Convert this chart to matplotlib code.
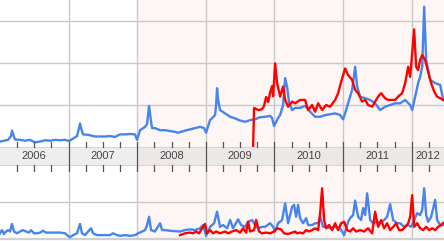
import matplotlib
matplotlib.use("Agg")
import matplotlib.pyplot as plt

# --- search volume (top panel), dates as decimal years
blue_top_t = [
    2006.000, 2006.117, 2006.160, 2006.175, 2006.204, 2006.219, 2006.292, 2006.364, 2006.437, 2006.510,
    2006.583, 2006.656, 2006.729, 2006.802, 2006.875, 2006.948, 2006.991, 2007.006, 2007.064, 2007.122,
    2007.152, 2007.166, 2007.181, 2007.210, 2007.283, 2007.385, 2007.458, 2007.531, 2007.603, 2007.676,
    2007.749, 2007.822, 2007.895, 2007.968, 2007.997, 2008.041, 2008.114, 2008.143, 2008.172, 2008.201,
    2008.216, 2008.259, 2008.332, 2008.405, 2008.478, 2008.551, 2008.595, 2008.697, 2008.770, 2008.843,
    2008.915, 2008.974, 2009.003, 2009.061, 2009.134, 2009.149, 2009.163, 2009.178, 2009.207, 2009.280,
    2009.353, 2009.426, 2009.499, 2009.571, 2009.644, 2009.717, 2009.790, 2009.863, 2009.936, 2009.965,
    2009.994, 2010.052, 2010.082, 2010.125, 2010.155, 2010.184, 2010.213, 2010.257, 2010.300, 2010.373,
    2010.446, 2010.519, 2010.592, 2010.665, 2010.738, 2010.810, 2010.883, 2010.956, 2011.000, 2011.029,
    2011.073, 2011.131, 2011.175, 2011.204, 2011.248, 2011.321, 2011.394, 2011.466, 2011.539, 2011.612,
    2011.685, 2011.758, 2011.831, 2011.904, 2011.977, 2012.006, 2012.050, 2012.093, 2012.122, 2012.152,
    2012.181, 2012.210, 2012.268, 2012.341, 2012.414, 2012.458,
]
blue_top_v = [
    0.13, 0.17, 0.26, 0.39, 0.24, 0.18, 0.17, 0.15, 0.17, 0.11,
    0.13, 0.16, 0.15, 0.17, 0.16, 0.17, 0.15, 0.14, 0.20, 0.26,
    0.45, 0.56, 0.45, 0.30, 0.29, 0.25, 0.25, 0.25, 0.26, 0.24,
    0.30, 0.30, 0.31, 0.30, 0.17, 0.40, 0.48, 0.55, 0.98, 0.60,
    0.45, 0.45, 0.40, 0.40, 0.38, 0.36, 0.34, 0.39, 0.42, 0.45,
    0.48, 0.45, 0.34, 0.64, 0.76, 1.00, 1.40, 1.12, 0.88, 0.80,
    0.72, 0.68, 0.63, 0.60, 0.64, 0.66, 0.71, 0.72, 0.74, 0.69,
    0.50, 0.69, 0.76, 1.00, 1.64, 1.43, 1.05, 0.88, 0.93, 0.93,
    0.98, 0.84, 0.72, 0.72, 0.76, 0.78, 0.80, 0.76, 0.66, 0.80,
    1.04, 1.36, 1.91, 1.44, 1.20, 1.16, 1.12, 1.04, 0.88, 0.96,
    1.00, 1.04, 1.04, 1.12, 1.00, 0.88, 1.20, 1.52, 1.67, 1.91,
    3.34, 2.07, 1.60, 1.52, 1.48, 1.12,
]

red_top_t = [
    2009.688, 2009.703, 2009.761, 2009.819, 2009.848, 2009.878, 2009.907, 2009.936, 2009.965, 2009.980,
    2010.009, 2010.038, 2010.082, 2010.125, 2010.155, 2010.198, 2010.257, 2010.300, 2010.373, 2010.446,
    2010.490, 2010.548, 2010.592, 2010.636, 2010.694, 2010.752, 2010.810, 2010.883, 2010.927, 2010.971,
    2011.029, 2011.073, 2011.131, 2011.175, 2011.219, 2011.277, 2011.321, 2011.364, 2011.423, 2011.466,
    2011.510, 2011.554, 2011.612, 2011.656, 2011.714, 2011.758, 2011.802, 2011.860, 2011.904, 2011.948,
    2011.977, 2012.006, 2012.035, 2012.064, 2012.093, 2012.122, 2012.152, 2012.195, 2012.239, 2012.283,
    2012.327, 2012.370, 2012.414, 2012.458,
]
red_top_v = [
    0.00, 0.93, 0.88, 0.90, 0.98, 1.19, 1.07, 1.29, 1.45, 1.21,
    1.99, 1.52, 1.20, 1.44, 1.12, 0.96, 1.08, 1.04, 1.12, 1.12,
    0.88, 1.00, 0.84, 1.04, 0.88, 1.00, 0.96, 1.12, 1.28, 1.55,
    1.87, 1.71, 1.60, 1.36, 1.28, 1.08, 1.12, 1.00, 0.96, 1.08,
    1.20, 1.28, 1.16, 1.12, 1.12, 1.12, 1.20, 1.28, 1.52, 1.91,
    1.67, 2.23, 2.80, 1.91, 1.83, 2.07, 2.19, 2.07, 1.79, 1.52,
    1.32, 1.20, 1.16, 1.12,
]

# --- news reference volume (bottom panel)
blue_news_t = [
    2006.000, 2006.029, 2006.058, 2006.087, 2006.117, 2006.146, 2006.175, 2006.204, 2006.248, 2006.292,
    2006.335, 2006.379, 2006.423, 2006.452, 2006.496, 2006.539, 2006.583, 2006.627, 2006.671, 2006.729,
    2006.802, 2006.875, 2006.948, 2006.991, 2007.020, 2007.064, 2007.122, 2007.166, 2007.195, 2007.239,
    2007.283, 2007.327, 2007.356, 2007.414, 2007.458, 2007.531, 2007.603, 2007.647, 2007.706, 2007.749,
    2007.822, 2007.895, 2007.968, 2008.012, 2008.070, 2008.114, 2008.143, 2008.172, 2008.201, 2008.259,
    2008.332, 2008.362, 2008.405, 2008.478, 2008.551, 2008.624, 2008.697, 2008.770, 2008.843, 2008.915,
    2008.959, 2009.003, 2009.061, 2009.120, 2009.163, 2009.207, 2009.251, 2009.309, 2009.353, 2009.397,
    2009.469, 2009.513, 2009.571, 2009.615, 2009.673, 2009.717, 2009.761, 2009.819, 2009.863, 2009.936,
    2009.980, 2010.009, 2010.052, 2010.111, 2010.155, 2010.198, 2010.257, 2010.286, 2010.315, 2010.344,
    2010.373, 2010.417, 2010.461, 2010.490, 2010.548, 2010.592, 2010.636, 2010.665, 2010.708, 2010.767,
    2010.810, 2010.883, 2010.956, 2011.015, 2011.073, 2011.102, 2011.146, 2011.175, 2011.219, 2011.262,
    2011.292, 2011.321, 2011.350, 2011.394, 2011.437, 2011.481, 2011.539, 2011.598, 2011.641, 2011.685,
    2011.729, 2011.787, 2011.831, 2011.889, 2011.948, 2011.991, 2012.035, 2012.079, 2012.122, 2012.152,
    2012.181, 2012.210, 2012.239, 2012.283, 2012.341, 2012.370, 2012.414, 2012.458,
]
blue_news_v = [
    0.13, 0.22, 0.11, 0.18, 0.22, 0.18, 0.39, 0.18, 0.13, 0.18,
    0.22, 0.18, 0.15, 0.22, 0.13, 0.13, 0.15, 0.20, 0.15, 0.15,
    0.15, 0.15, 0.13, 0.06, 0.02, 0.08, 0.13, 0.39, 0.13, 0.08,
    0.18, 0.27, 0.13, 0.08, 0.08, 0.08, 0.08, 0.13, 0.08, 0.06,
    0.08, 0.06, 0.08, 0.13, 0.18, 0.22, 0.36, 0.59, 0.22, 0.18,
    0.41, 0.22, 0.22, 0.20, 0.19, 0.18, 0.22, 0.24, 0.22, 0.27,
    0.36, 0.06, 0.31, 0.41, 0.73, 0.31, 0.36, 0.27, 0.50, 0.27,
    0.52, 0.36, 0.31, 0.45, 0.50, 0.36, 0.27, 0.31, 0.31, 0.41,
    0.31, 0.18, 0.41, 0.50, 0.96, 0.41, 0.87, 0.92, 0.59, 0.92,
    0.55, 0.41, 0.55, 0.36, 0.36, 0.41, 0.41, 0.59, 0.31, 0.31,
    0.27, 0.31, 0.27, 0.08, 0.45, 0.55, 0.64, 1.04, 0.59, 0.50,
    0.83, 0.64, 1.24, 0.50, 0.41, 0.45, 0.41, 0.50, 0.59, 0.94,
    0.50, 0.41, 0.41, 0.31, 0.36, 0.31, 0.50, 0.69, 0.64, 0.78,
    1.38, 0.64, 0.45, 0.59, 1.06, 0.50, 0.36, 0.36,
]

red_news_t = [
    2008.624, 2008.697, 2008.770, 2008.813, 2008.857, 2008.901, 2008.945, 2008.988, 2009.017, 2009.061,
    2009.105, 2009.149, 2009.207, 2009.280, 2009.324, 2009.382, 2009.440, 2009.499, 2009.542, 2009.586,
    2009.615, 2009.644, 2009.703, 2009.732, 2009.776, 2009.819, 2009.878, 2009.936, 2009.994, 2010.038,
    2010.096, 2010.140, 2010.198, 2010.257, 2010.300, 2010.329, 2010.373, 2010.417, 2010.461, 2010.504,
    2010.548, 2010.592, 2010.636, 2010.665, 2010.694, 2010.723, 2010.752, 2010.796, 2010.840, 2010.883,
    2010.927, 2010.971, 2011.015, 2011.058, 2011.102, 2011.146, 2011.190, 2011.248, 2011.306, 2011.364,
    2011.423, 2011.466, 2011.510, 2011.554, 2011.598, 2011.641, 2011.685, 2011.729, 2011.773, 2011.816,
    2011.860, 2011.904, 2011.948, 2011.977, 2012.006, 2012.035, 2012.079, 2012.122, 2012.166, 2012.210,
    2012.254, 2012.297, 2012.341, 2012.385, 2012.429, 2012.458,
]
red_news_v = [
    0.08, 0.13, 0.15, 0.13, 0.18, 0.13, 0.27, 0.39, 0.13, 0.22,
    0.13, 0.18, 0.13, 0.18, 0.13, 0.18, 0.22, 0.15, 0.27, 0.15,
    0.45, 0.18, 0.22, 0.50, 0.18, 0.13, 0.15, 0.13, 0.18, 0.27,
    0.24, 0.13, 0.11, 0.15, 0.18, 0.13, 0.15, 0.13, 0.22, 0.18,
    0.22, 0.27, 0.22, 0.69, 1.38, 0.50, 0.27, 0.36, 0.22, 0.41,
    0.22, 0.41, 0.45, 0.22, 0.18, 0.27, 0.18, 0.22, 0.18, 0.27,
    0.13, 0.73, 0.31, 0.50, 0.27, 0.41, 0.22, 0.31, 0.41, 0.22,
    0.22, 0.31, 0.41, 0.59, 1.19, 0.31, 0.41, 0.27, 0.22, 0.31,
    0.22, 0.27, 0.22, 0.31, 0.36, 0.42,
]

years = [2006, 2007, 2008, 2009, 2010, 2011, 2012]
year_labels = ["2006", "2007", "2008", "2009", "2010", "2011", "2012"]
forecast_start = 2008

BLUE = "#4684ee"
RED = "#ff0000"
GRID = "#c9c9c9"
PINK = "#fdf6f4"
LW = 1.7
X0, X1 = 2006.0, 2012.47

W, H = 444, 241
fig = plt.figure(figsize=(W / 100, H / 100), dpi=100)


def frac(top_px, bottom_px):
    return [0, (H - bottom_px) / H, 1, (bottom_px - top_px) / H]


ax_top = fig.add_axes(frac(0, 147))
ax_news = fig.add_axes(frac(165, 239))
ax_band = fig.add_axes(frac(142, 172))

for ax in (ax_top, ax_news):
    ax.set_xlim(X0, X1)
    ax.axvspan(forecast_start, X1, color=PINK, lw=0, zorder=0)
    for y in years[1:]:
        ax.axvline(y, color=GRID, lw=1.0, zorder=1)
    for s in ax.spines.values():
        s.set_visible(False)
    ax.set_xticks([])
    ax.set_yticks([])

ax_top.set_ylim(0, 3.5)
for g in (1, 2, 3):
    ax_top.axhline(g, color=GRID, lw=1.0, zorder=1)
ax_top.plot(blue_top_t, blue_top_v, color=BLUE, lw=LW, zorder=3, solid_joinstyle="round")
ax_top.plot(red_top_t, red_top_v, color=RED, lw=LW, zorder=4, solid_joinstyle="round")

ax_news.set_ylim(-1 / 36, 73 / 36)
ax_news.axhline(1, color=GRID, lw=1.0, zorder=1)
ax_news.spines["bottom"].set_visible(True)
ax_news.spines["bottom"].set_color("#d0d0d0")
ax_news.spines["bottom"].set_linewidth(1.6)
ax_news.plot(blue_news_t, blue_news_v, color=BLUE, lw=LW, zorder=3, solid_joinstyle="round")
ax_news.plot(red_news_t, red_news_v, color=RED, lw=LW, zorder=4, solid_joinstyle="round")

# --- date band with year labels and quarter ticks
ax_band.set_xlim(X0, X1)
ax_band.set_ylim(0, 30)
ax_band.patch.set_alpha(0)
ax_band.axis("off")
ax_band.fill_between([X0, forecast_start], 7, 25, color="#eeeeee", lw=0, zorder=1)
ax_band.fill_between([forecast_start, X1], 7, 25, color="#ece8e8", lw=0, zorder=1)
ax_band.plot([X0, X1], [25, 25], color="#d6d6d6", lw=0.8, zorder=2)
ax_band.plot([X0, X1], [7, 7], color="#d6d6d6", lw=0.8, zorder=2)
for y in years:
    if y > X0:
        ax_band.plot([y, y], [0, 30], color="#555555", lw=0.9, zorder=3)
    for q in (0.25, 0.5, 0.75):
        if y + q < X1:
            ax_band.plot([y + q, y + q], [25, 30], color="#555555", lw=0.9, zorder=3)
            ax_band.plot([y + q, y + q], [0, 7], color="#555555", lw=0.9, zorder=3)
for y, lab in zip(years, year_labels):
    mid = (max(y, X0) + min(y + 1, X1)) / 2
    ax_band.text(mid, 16, lab, ha="center", va="center", fontsize=8,
                 family=["Liberation Sans", "DejaVu Sans"], color="#444444", zorder=4)

fig.savefig("out.png", dpi=100)
